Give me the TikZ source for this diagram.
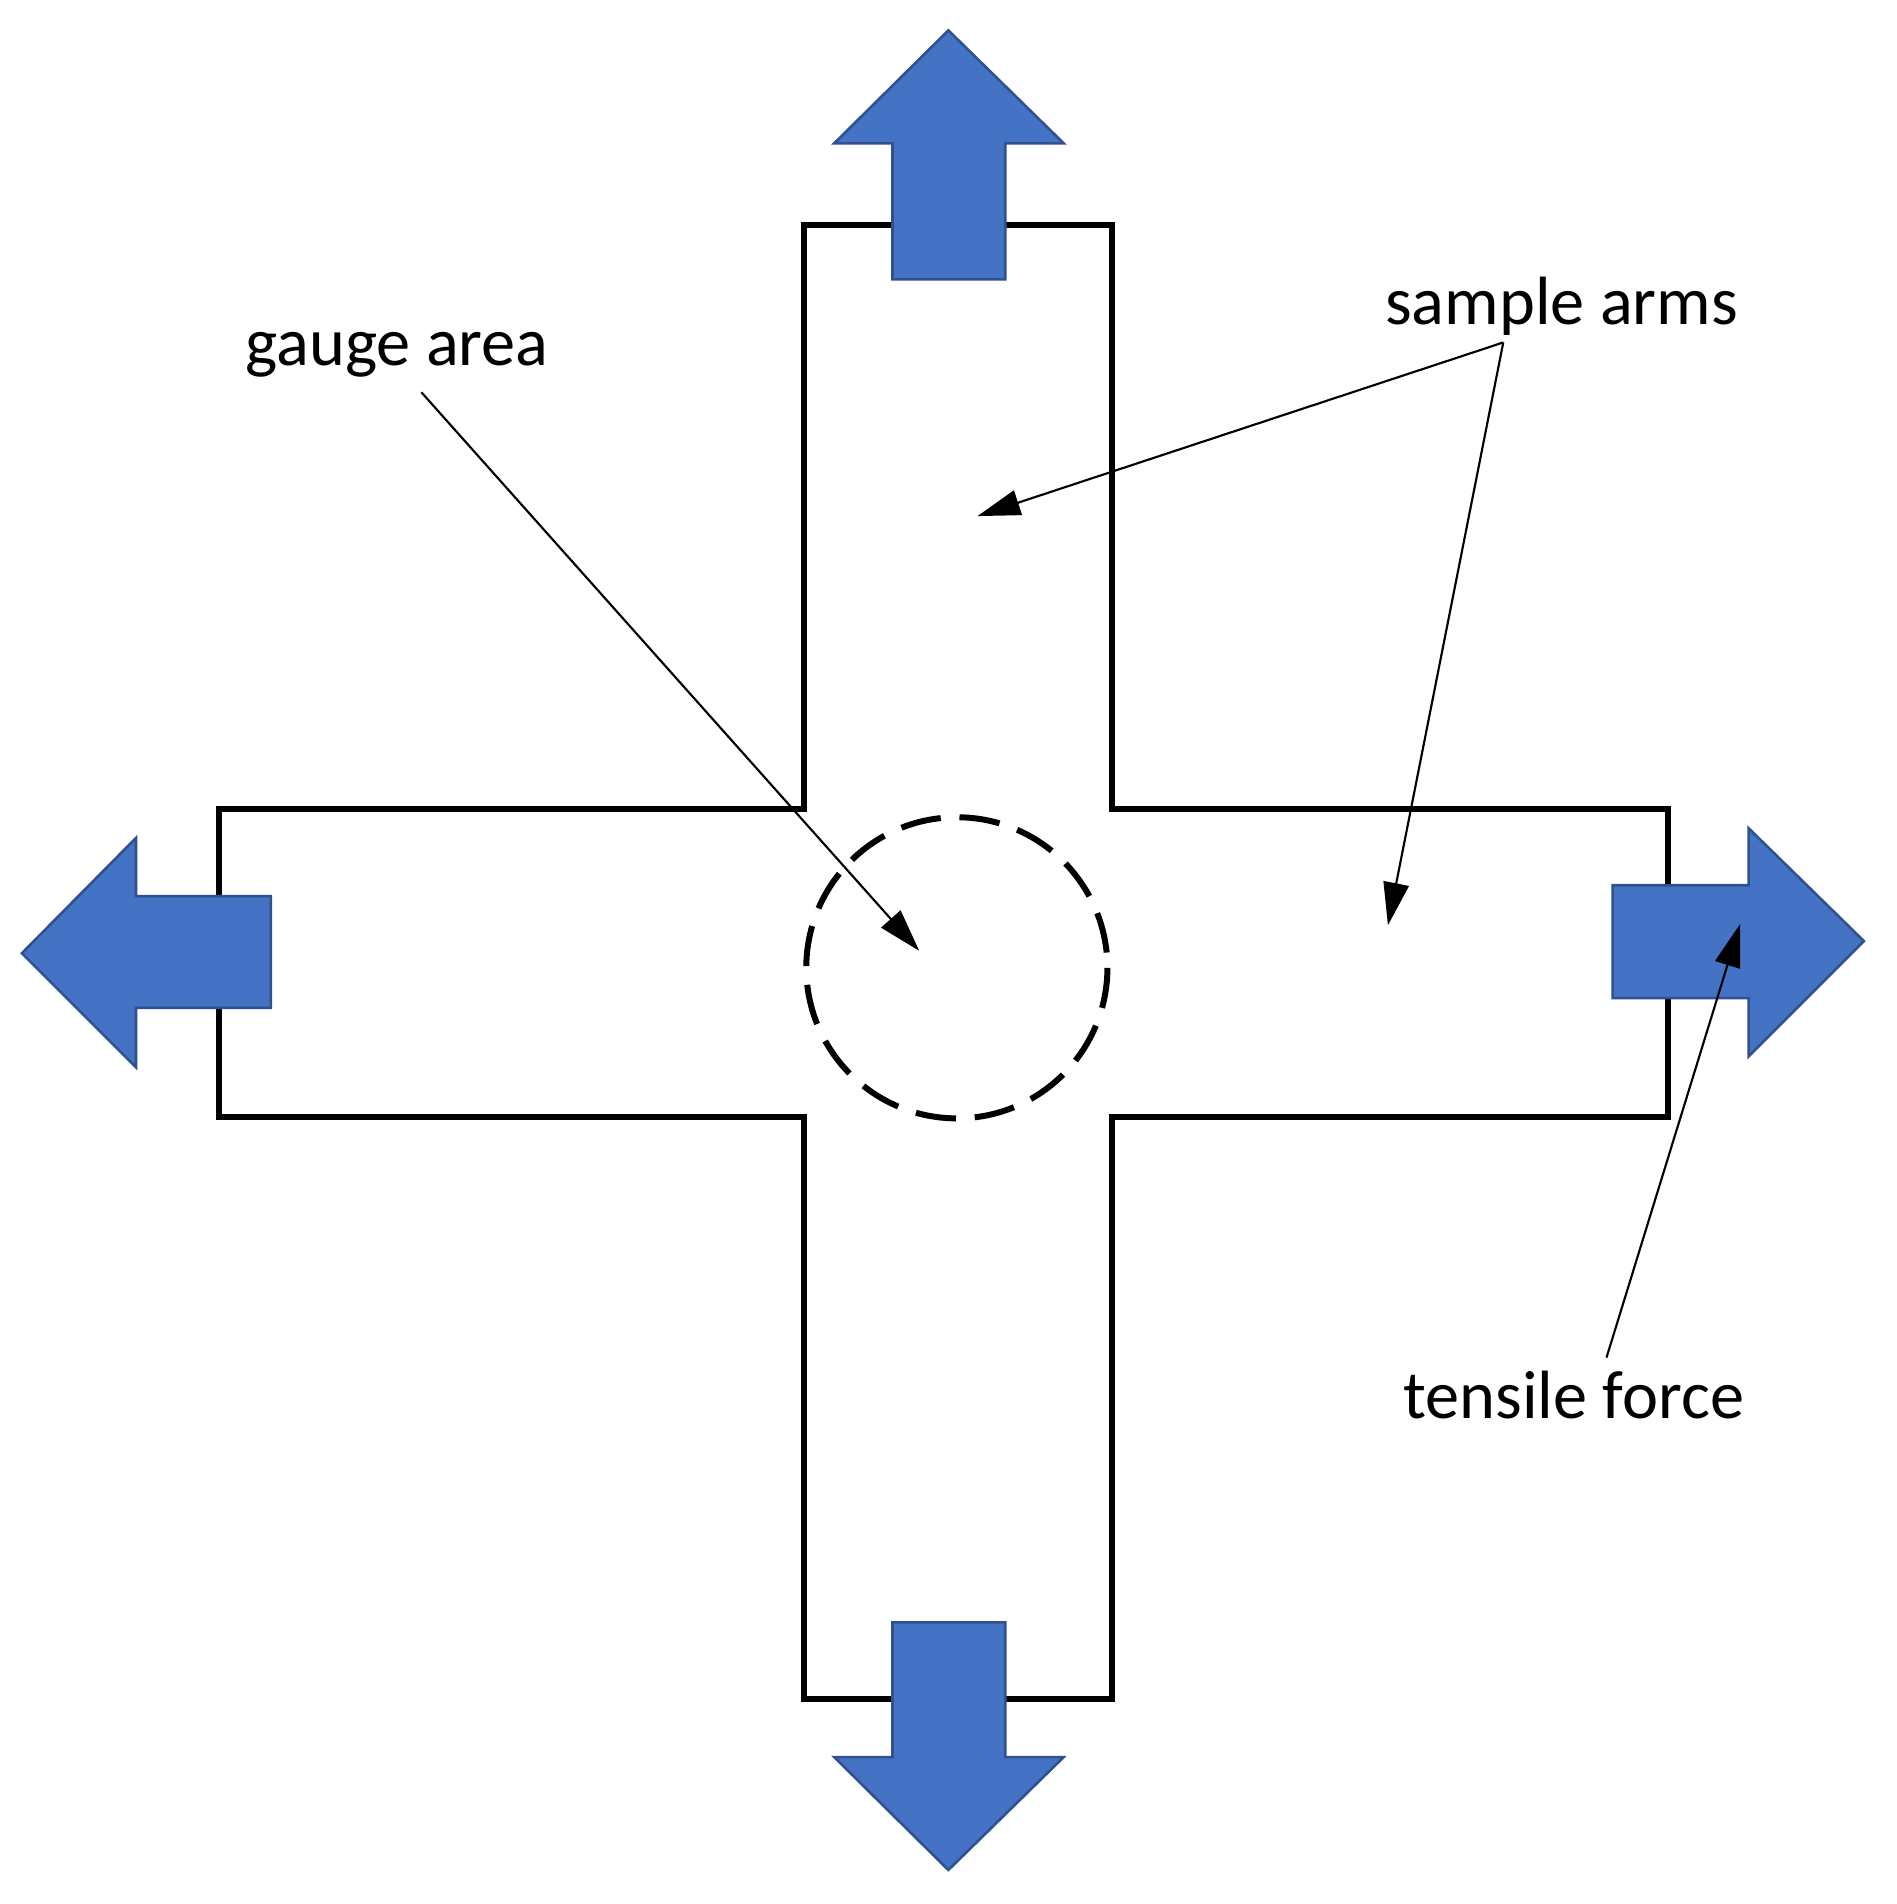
\documentclass[tikz,border=0pt]{standalone}
\usepackage{fontspec}
\setmainfont{Carlito}
\usetikzlibrary{arrows.meta}
\definecolor{bl}{HTML}{4472C4}
\definecolor{bld}{HTML}{2F528F}
\begin{document}
\begin{tikzpicture}[x=0.01cm,y=-0.01cm,
  force/.style={fill=bl,draw=bld,line width=0.6pt},
  body/.style={draw=black,line width=1.4pt,line join=miter},
  lbl/.style={font=\fontsize{16}{19}\selectfont,inner sep=0pt},
  ptr/.style={line width=0.5pt,-{Triangle[length=10pt,width=6pt]}}]
\useasboundingbox (0,0) rectangle (1562,1568);
\draw[body] (662,185) -- (916,185) -- (916,666) -- (1374,666) -- (1374,920) -- (916,920) -- (916,1399) -- (662,1399) -- (662,920) -- (180,920) -- (180,666) -- (662,666) -- cycle;
\draw[line width=1.4pt,dash pattern=on 9.5pt off 4.4pt] (788,797) circle[radius=124];
% force arrows
\draw[force] (735,230) -- (735,118) -- (687,118) -- (781,25) -- (876,118) -- (828,118) -- (828,230) -- cycle;
\draw[force] (735,1336) -- (735,1447) -- (687,1447) -- (781,1540) -- (876,1447) -- (828,1447) -- (828,1336) -- cycle;
\draw[force] (223,738) -- (112,738) -- (112,690) -- (18,785) -- (112,879) -- (112,830) -- (223,830) -- cycle;
\draw[force] (1328,729) -- (1440,729) -- (1440,682) -- (1535,775) -- (1440,870) -- (1440,822) -- (1328,822) -- cycle;
% labels
\node[lbl] (ga) at (327,292) {gauge area};
\node[lbl] (sa) at (1286,252) {sample arms};
\node[lbl] (tf) at (1296,1149) {tensile force};
\coordinate (gs) at (347,323);
\coordinate (ge) at (757,783);
\coordinate (ss) at (1238,282);
\coordinate (se1) at (805,425);
\coordinate (se2) at (1143,762);
\coordinate (ts) at (1323,1118);
\coordinate (te) at (1433,761);
\draw[ptr] (gs) -- (ge);
\draw[ptr] (ss) -- (se1);
\draw[ptr] (ss) -- (se2);
\draw[ptr] (ts) -- (te);
\end{tikzpicture}
\end{document}
